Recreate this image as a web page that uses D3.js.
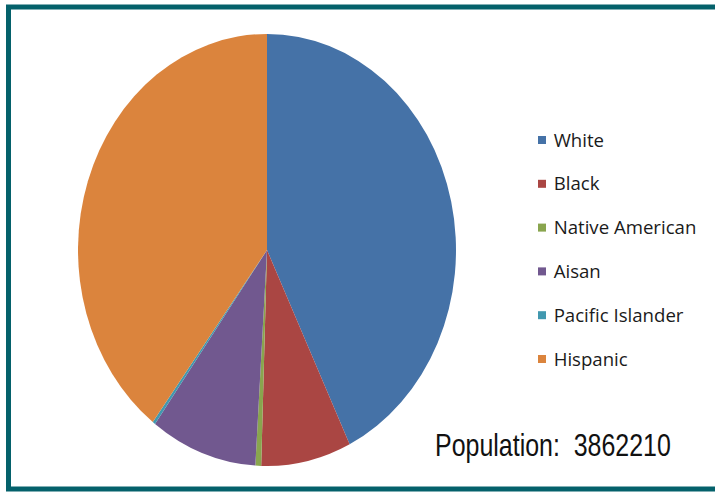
<!DOCTYPE html>
<html>
<head>
<meta charset="utf-8">
<script src="https://cdn.jsdelivr.net/npm/d3@7"></script>
<style>
  body { margin: 0; background: #fff; }
  svg { display: block; }
</style>
</head>
<body>
<script>
const width = 715, height = 492;

// data
const categories = ["White", "Black", "Native American", "Aisan", "Pacific Islander", "Hispanic"];
const population = [1653000, 297000, 19000, 352000, 9000, 1532210];
const colors = ["#4572A7", "#AA4643", "#89A54E", "#71588F", "#4198AF", "#DB843D"];
const totalLabel = "Population:  3862210";

const data = categories.map((c, i) => ({name: c, value: population[i]}));

const svg = d3.select("body").append("svg")
    .attr("width", width)
    .attr("height", height);

// frame
svg.append("rect")
    .attr("x", 8.5).attr("y", 7)
    .attr("width", 720).attr("height", 482)
    .attr("fill", "#fff")
    .attr("stroke", "#04616B")
    .attr("stroke-width", 5);

// pie is stretched vertically in the picture
const cx = 267, cy = 250, rx = 189, ry = 216;

const pie = d3.pie().sort(null).value(d => d.value);
const arc = d3.arc().innerRadius(0).outerRadius(ry);

const color = d3.scaleOrdinal().domain(categories).range(colors);

svg.append("g")
    .attr("transform", `translate(${cx},${cy}) scale(${rx / ry},1)`)
  .selectAll("path")
  .data(pie(data))
  .join("path")
    .attr("d", arc)
    .attr("fill", d => color(d.data.name));

// legend
const legend = svg.append("g")
    .attr("transform", "translate(538,140)");

const y = d3.scalePoint().domain(categories).range([0, 219]);

const item = legend.selectAll("g")
  .data(categories)
  .join("g")
    .attr("transform", d => `translate(0,${y(d)})`);

item.append("rect")
    .attr("x", 0).attr("y", -4)
    .attr("width", 8).attr("height", 8)
    .attr("fill", d => color(d));

item.append("text")
    .attr("x", 16)
    .attr("dy", "0.35em")
    .attr("transform", "scale(0.98,1)")
    .attr("font-family", "'Open Sans', sans-serif")
    .attr("font-size", 19)
    .attr("font-weight", 500)
    .attr("fill", "#1a1a1a")
    .text(d => d);

svg.append("text")
    .attr("transform", "translate(435,456) scale(0.78,1)")
    .attr("font-family", "'Liberation Sans', Arial, sans-serif")
    .attr("font-size", 32)
    .attr("fill", "#111")
    .attr("xml:space", "preserve")
    .style("white-space", "pre")
    .text(totalLabel);
</script>
</body>
</html>
